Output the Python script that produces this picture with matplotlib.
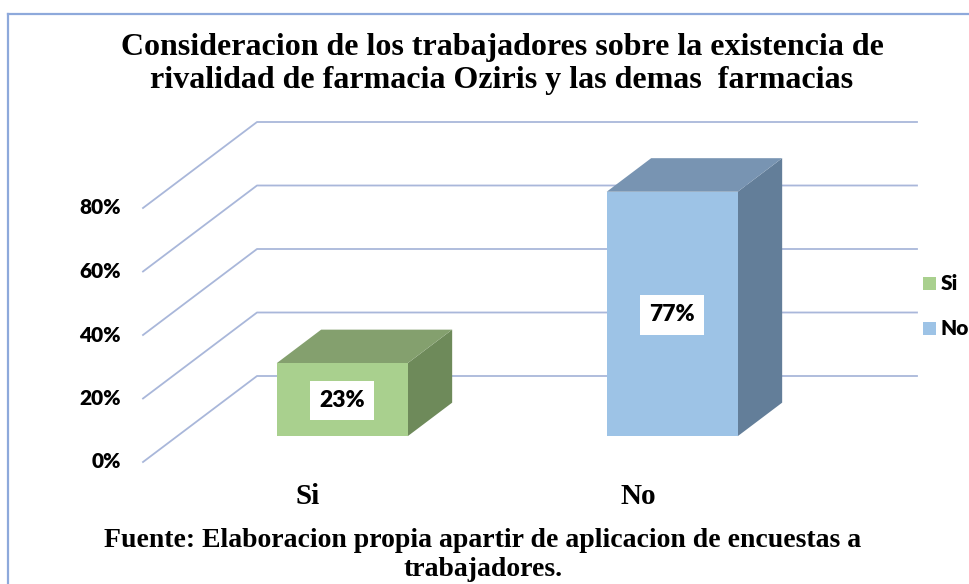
import matplotlib
matplotlib.use("Agg")
import matplotlib.pyplot as plt
from matplotlib.patches import Polygon, Rectangle
from matplotlib.lines import Line2D
from matplotlib.transforms import IdentityTransform

# ---- data ----
categories = ["Si", "No"]
values = [0.23, 0.77]
value_labels = ["23%", "77%"]
ticks = [0.0, 0.2, 0.4, 0.6, 0.8]
tick_labels = ["0%", "20%", "40%", "60%", "80%"]
title = ("Consideracion de los trabajadores sobre la existencia de\n"
         "rivalidad de farmacia Oziris y las demas  farmacias")
footer = ("Fuente: Elaboracion propia apartir de aplicacion de encuestas a\n"
          "trabajadores.")

front_colors = ["#A9D08E", "#9DC3E6"]
top_colors = ["#84A06E", "#7894B2"]
side_colors = ["#6E8A5A", "#637E99"]
grid_color = "#A9B7DA"

W, H, DPI = 970, 584, 100
fig = plt.figure(figsize=(W / DPI, H / DPI), dpi=DPI)
fig.patch.set_facecolor("white")

# chart border
fig.add_artist(Line2D([8 / W, 8 / W], [0, 1 - 14 / H], transform=fig.transFigure,
                      color="#8EA9DB", lw=1.6))
fig.add_artist(Line2D([8 / W, 1.0], [1 - 14 / H, 1 - 14 / H], transform=fig.transFigure,
                      color="#8EA9DB", lw=1.6))

# front plane axes
ax = fig.add_axes([143 / W, (H - 462) / H, 660 / W, 254 / H])
ax.set_xlim(-0.5, len(categories) - 0.5)
ax.set_ylim(0, 0.8)
ax.axis("off")

DX, DY = 114.0, 86.0  # full depth offset in pixels
D0, D1 = 0.30, 0.69   # bar depth span
BW = 0.397            # bar width in category units


def P(x, v, d):
    px, py = ax.transData.transform((x, v))
    return (px + d * DX, py + d * DY)


idt = IdentityTransform()
xmin, xmax = ax.get_xlim()

# gridlines (side wall oblique + back wall horizontal)
for v, lab in zip(ticks, tick_labels):
    pts = [P(xmin, v, 0), P(xmin, v, 1), P(xmax, v, 1)]
    ax.add_line(Line2D([p[0] for p in pts], [p[1] for p in pts], transform=idt,
                       color=grid_color, lw=1.3, clip_on=False, zorder=1))
    px, py = P(xmin, v, 0)
    ax.text(px - 22, py, lab, transform=idt, ha="right", va="center",
            fontsize=15, fontweight="heavy", family="Lato", color="black")

# bars
for i, (val, lab) in enumerate(zip(values, value_labels)):
    x0, x1 = i - BW / 2, i + BW / 2
    front = [P(x0, 0, D0), P(x1, 0, D0), P(x1, val, D0), P(x0, val, D0)]
    top = [P(x0, val, D0), P(x1, val, D0), P(x1, val, D1), P(x0, val, D1)]
    side = [P(x1, 0, D0), P(x1, 0, D1), P(x1, val, D1), P(x1, val, D0)]
    for poly, c, z in ((side, side_colors[i], 3), (top, top_colors[i], 3),
                       (front, front_colors[i], 4)):
        ax.add_patch(Polygon(poly, closed=True, transform=idt, facecolor=c,
                             edgecolor="none", clip_on=False, zorder=z))
    cx = (front[0][0] + front[1][0]) / 2
    cy = (front[0][1] + front[2][1]) / 2
    ax.text(cx, cy - 1, lab, transform=idt, ha="center", va="center",
            fontsize=16.5, fontweight="heavy", family="Lato", color="black", zorder=6,
            bbox=dict(boxstyle="square,pad=0.4", facecolor="white", edgecolor="none"))
    # category label
    px, py = P(i, 0, 0)
    ax.text(px, py - 34.5, categories[i], transform=idt, ha="center", va="center",
            fontsize=21, fontweight="bold", family="Liberation Serif", color="black")

# legend
for j, (cat, c) in enumerate(zip(categories, front_colors)):
    ly = H - (283.5 + j * 45)
    fig.add_artist(Rectangle((923 / W, (ly - 6.5) / H), 13 / W, 13 / H,
                             transform=fig.transFigure, facecolor=c, edgecolor="none"))
    fig.text(941 / W, ly / H, cat, ha="left", va="center", fontsize=15,
             fontweight="heavy", family="Lato", color="black")

# title
fig.text(502 / W, 1 - 64 / H, title, ha="center", va="center", fontsize=23,
         fontweight="bold", family="Liberation Serif", linespacing=1.15)

# footer
fig.text(483 / W, 1 - 555 / H, footer, ha="center", va="center", fontsize=20,
         fontweight="bold", family="Liberation Serif", linespacing=1.18)

fig.savefig("out.png", dpi=DPI, facecolor="white")
